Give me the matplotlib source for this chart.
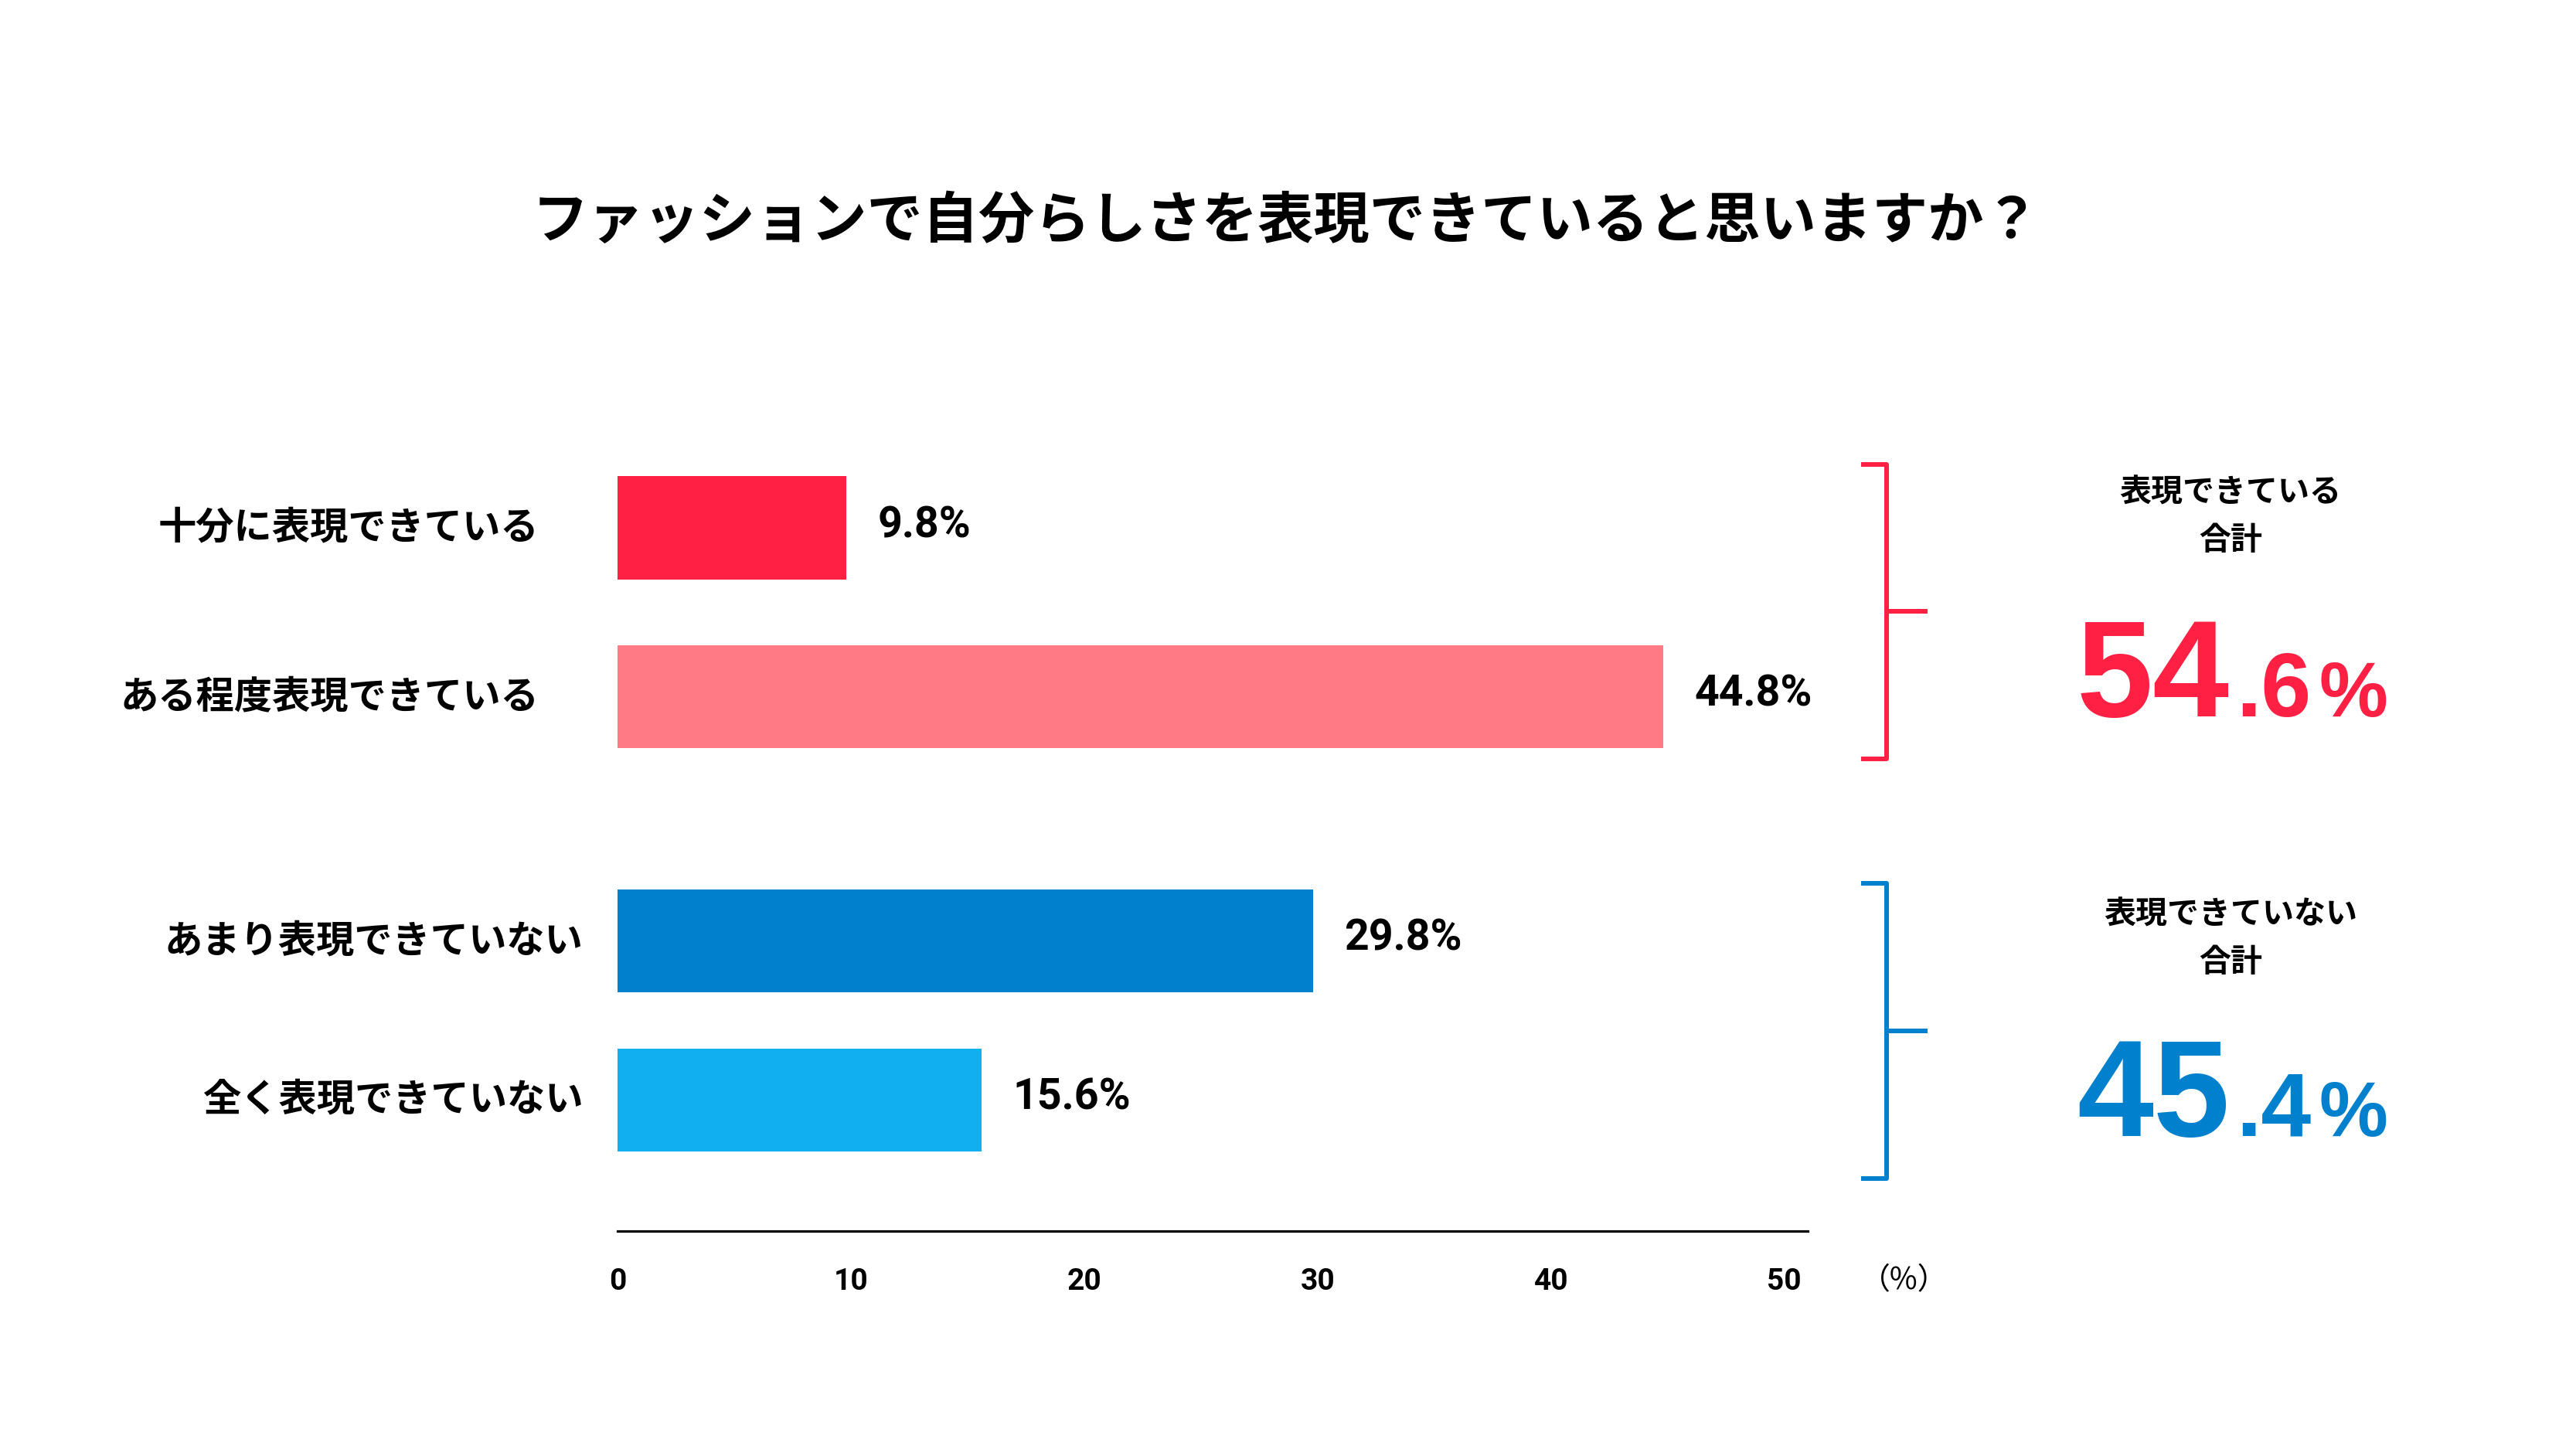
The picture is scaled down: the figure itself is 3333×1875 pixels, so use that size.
import matplotlib
matplotlib.use("Agg")
import matplotlib.pyplot as plt
from matplotlib.transforms import blended_transform_factory

plt.rcParams['font.family'] = ['Noto Sans CJK JP', 'DejaVu Sans']

# ---- data ----
title = "ファッションで自分らしさを表現できていると思いますか？"
categories = ["十分に表現できている", "ある程度表現できている", "あまり表現できていない", "全く表現できていない"]
values = [9.8, 44.8, 29.8, 15.6]
xticks = [0, 10, 20, 30, 40, 50]
group_labels = ["表現できている\n合計", "表現できていない\n合計"]
group_totals_int = ["54", "45"]
group_totals_dec = [".6", ".4"]

# ---- style ----
colors = ["#FF2044", "#FF7A84", "#0080CD", "#12AFF0"]
group_colors = ["#FF2044", "#0080CD"]
ypos = [0, 1.03, 2.52, 3.49]
bar_h = 0.63
label_offsets = [-73, -73, -32, -32]
num_font = ['Roboto', 'Noto Sans CJK JP']
big_font = ['Liberation Sans', 'DejaVu Sans']

W, H = 3333, 1875
fig = plt.figure(figsize=(W / 100, H / 100), dpi=100)
fig.patch.set_facecolor('white')

ax = fig.add_axes([799 / W, 1 - 1593 / H, 1540 / W, (1593 - 556) / H])
ax.barh(ypos, values, height=bar_h, color=colors)
ax.set_xlim(0, 51)
ax.set_ylim(4.29, -0.6)

for s in ['top', 'right', 'left']:
    ax.spines[s].set_visible(False)
ax.spines['bottom'].set_linewidth(2.3)
ax.spines['bottom'].set_color('black')
ax.set_yticks([])
ax.set_xticks(xticks)
ax.set_xticklabels([str(t) for t in xticks], fontsize=28, fontweight='bold', family=num_font)
ax.tick_params(axis='x', length=0, pad=34)

# value labels
for y, v in zip(ypos, values):
    ax.annotate(f"{v}%", xy=(v, y), xytext=(29, 2), textcoords='offset points',
                ha='left', va='center', fontsize=40, fontweight='bold', family=num_font)

# category labels
for y, c, off in zip(ypos, categories, label_offsets):
    ax.annotate(c, xy=(0, y), xytext=(off, 0), textcoords='offset points',
                ha='right', va='center', fontsize=35.5, fontweight='bold')

fig.text(2464 / W, 1 - 1657 / H, "（%）", ha='center', va='center', fontsize=28,
         family=['Noto Sans CJK JP', 'DejaVu Sans'])

# title
fig.text(0.4993, 1 - 287 / H, title, ha='center', va='center', fontsize=52, fontweight='bold')

# brackets
trans = blended_transform_factory(fig.transFigure, ax.transData)
brackets = [(-0.39, 1.41), (2.17, 3.97)]
xv, xl, xr = 2441 / W, 2408 / W, 2494 / W
for (top, bot), col in zip(brackets, group_colors):
    mid = (top + bot) / 2
    kw = dict(transform=trans, color=col, lw=4.3, clip_on=False, solid_capstyle='butt')
    ax.plot([xl, xv, xv, xl], [top, top, bot, bot], **kw)
    ax.plot([xv, xr], [mid, mid], **kw)

# group summaries
label_y = [1 - 668 / H, 1 - 1214 / H]
base_y = [1 - 927 / H, 1 - 1470 / H]
cx = 2886 / W
fig.canvas.draw()
renderer = fig.canvas.get_renderer()
for i in range(2):
    fig.text(cx, label_y[i], group_labels[i], ha='center', va='center', fontsize=29.5,
             fontweight='bold', linespacing=1.6)
    split_x = 2885 / W
    fig.text(split_x, base_y[i], group_totals_int[i], ha='right', va='baseline',
             fontsize=128, fontweight='bold', family=big_font, color=group_colors[i])
    t2 = fig.text(split_x + 8 / W, base_y[i], group_totals_dec[i], ha='left', va='baseline',
                  fontsize=84, fontweight='bold', family=big_font, color=group_colors[i])
    bb = t2.get_window_extent(renderer)
    fig.text((bb.x1 + 10) / W, base_y[i], "%", ha='left', va='baseline',
             fontsize=72, fontweight='bold', family=big_font, color=group_colors[i])

fig.savefig("out.png", dpi=100, facecolor='white')
